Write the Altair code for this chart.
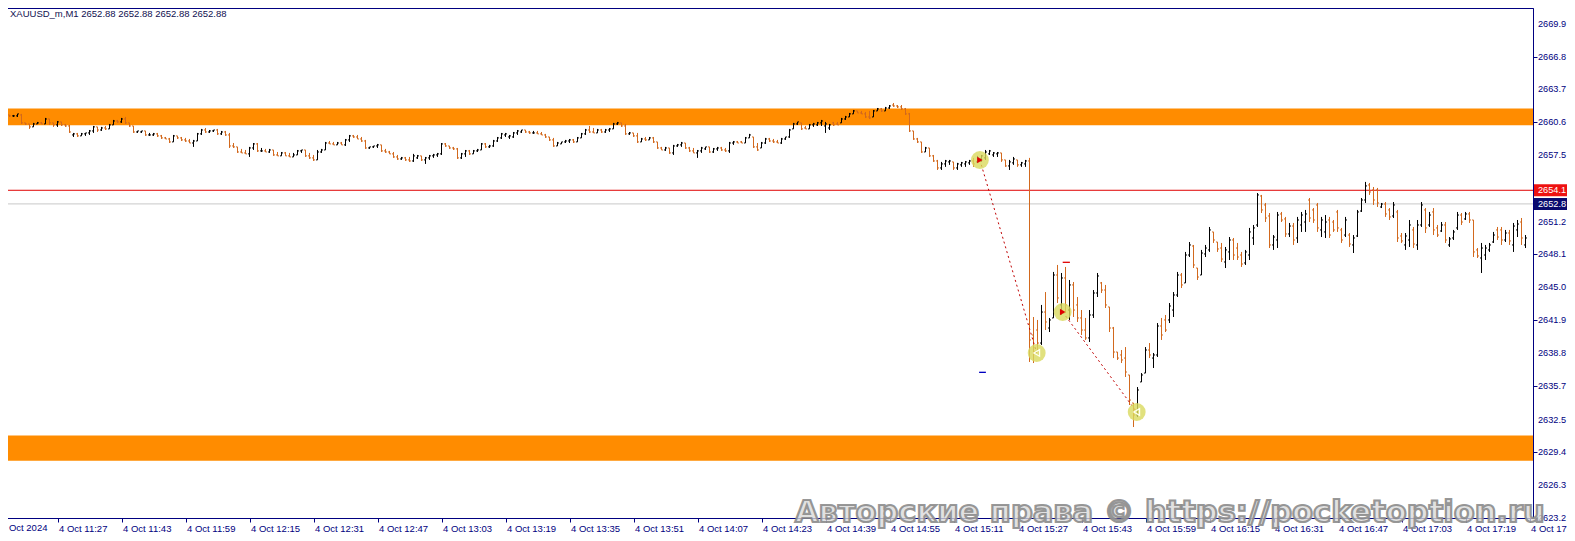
import json
import altair as alt
import pandas as pd

# ---------------- data (XAUUSD_m, M1, 4 Oct 2024, first bar 11:13) ----------------
OPEN = [
2661.29, 2661.20, 2661.29, 2661.20, 2661.20, 2661.29, 2660.54, 2660.44, 2660.16, 2660.44,
2660.54, 2660.44, 2660.91, 2660.54, 2660.35, 2660.63, 2660.35, 2660.25, 2659.40, 2659.50,
2659.31, 2659.50, 2659.59, 2659.78, 2660.16, 2659.87, 2660.06, 2659.97, 2660.35, 2660.72,
2660.63, 2660.91, 2660.54, 2660.25, 2659.68, 2659.68, 2659.78, 2659.40, 2659.40, 2659.50,
2659.31, 2659.12, 2659.02, 2658.74, 2659.31, 2659.12, 2658.93, 2658.83, 2658.64, 2658.83,
2659.50, 2659.87, 2659.68, 2659.78, 2659.87, 2659.50, 2659.68, 2659.40, 2658.36, 2658.27,
2657.79, 2657.70, 2657.61, 2658.17, 2658.55, 2657.89, 2657.89, 2657.79, 2657.98, 2657.51,
2657.42, 2657.70, 2657.42, 2657.32, 2657.51, 2657.89, 2657.98, 2657.42, 2657.23, 2657.04,
2657.79, 2657.98, 2658.64, 2658.55, 2658.46, 2658.64, 2658.46, 2658.93, 2659.31, 2659.21,
2659.02, 2658.83, 2658.17, 2658.27, 2658.36, 2658.46, 2657.89, 2657.79, 2657.61, 2657.32,
2657.13, 2657.23, 2657.04, 2656.94, 2657.23, 2657.42, 2657.04, 2657.23, 2657.42, 2657.51,
2657.61, 2658.55, 2658.36, 2658.17, 2658.08, 2657.23, 2657.61, 2657.89, 2657.61, 2657.89,
2657.98, 2658.55, 2658.27, 2658.36, 2658.83,
2659.12, 2659.40, 2659.21, 2659.21, 2659.59, 2659.68, 2659.87, 2659.68, 2659.59, 2659.59,
2659.50, 2659.40, 2659.21, 2658.93, 2658.36, 2658.55, 2658.74, 2658.83, 2658.93, 2658.74,
2659.12, 2659.50, 2659.87, 2659.68, 2659.59, 2659.87, 2659.68, 2659.87, 2659.97, 2660.44,
2660.54, 2660.25, 2659.50, 2659.59, 2659.31, 2658.74, 2659.02, 2658.93, 2659.12, 2658.74,
2658.17, 2657.98, 2658.17, 2657.70, 2658.36, 2658.46, 2658.64, 2658.17, 2657.89, 2657.70,
2657.89, 2658.08, 2658.27, 2657.79, 2658.08, 2658.17, 2657.98, 2657.89, 2658.64, 2658.74,
2658.74, 2658.64, 2659.12, 2659.21, 2658.27, 2658.17, 2658.64, 2659.02, 2658.83, 2658.74,
2658.64, 2659.02, 2659.21, 2659.97, 2660.44, 2660.54, 2660.06, 2659.97, 2660.35, 2660.35,
2660.54, 2660.25, 2660.06, 2660.54, 2660.44, 2660.54, 2660.91, 2661.10, 2661.39, 2661.67,
2661.48, 2661.39, 2661.10, 2661.10, 2661.67, 2661.86, 2661.67, 2661.95, 2662.23, 2662.14,
2662.05, 2661.86, 2661.39, 2659.78, 2659.02, 2658.74, 2657.79, 2658.17, 2657.42, 2656.94,
2656.28, 2656.66, 2656.85, 2656.85, 2656.28, 2656.57, 2656.66, 2656.76, 2656.94, 2656.85,
2657.13, 2657.23, 2657.61, 2657.51, 2657.61, 2657.70, 2657.04, 2656.47, 2656.76, 2657.04,
2656.57, 2656.66,
2656.94, 2640.49, 2640.96, 2639.73, 2642.66, 2641.15, 2642.10, 2646.16, 2643.33, 2645.88,
2642.85, 2645.22, 2643.33, 2642.10, 2640.96, 2640.21, 2642.38, 2644.46, 2645.41, 2644.74,
2643.14, 2641.15, 2638.88, 2638.60, 2638.31, 2636.71, 2634.06, 2632.93, 2636.05, 2636.89,
2639.07, 2638.31, 2638.60, 2641.34, 2641.91, 2641.91, 2642.85, 2644.27, 2646.16, 2645.41,
2648.05, 2648.90, 2646.82, 2646.16, 2648.15, 2648.53, 2650.23, 2649.28, 2648.71, 2647.39,
2648.34, 2649.47, 2648.71, 2648.05, 2647.30, 2648.05, 2649.66, 2650.89, 2653.63, 2652.78,
2651.74, 2649.00, 2649.47, 2651.93, 2651.46, 2650.04, 2650.79, 2649.66, 2650.89, 2651.17,
2653.25, 2652.31, 2652.78, 2650.42, 2650.23, 2651.36, 2651.17, 2652.12, 2650.42, 2649.94,
2649.94, 2649.00, 2649.85, 2652.21, 2653.25, 2654.67, 2654.20, 2654.20, 2652.59, 2652.87,
2652.31, 2651.74, 2652.12, 2649.85, 2649.00, 2649.47, 2650.42, 2649.00, 2650.89, 2652.31,
2650.89, 2652.12, 2650.61, 2650.32, 2650.89, 2649.00, 2649.66, 2650.61, 2651.83, 2651.46,
2651.93, 2651.36, 2648.53, 2647.77, 2648.05, 2648.53, 2649.28, 2650.42, 2650.42, 2649.47,
2650.13, 2649.00, 2650.42, 2651.17, 2649.00,
]

HIGH = [
2661.39, 2661.29, 2661.29, 2661.29, 2661.39, 2661.39, 2660.54, 2660.44, 2660.54, 2660.63,
2660.63, 2661.01, 2660.91, 2660.54, 2660.72, 2660.63, 2660.44, 2660.35, 2659.59, 2659.59,
2659.59, 2659.59, 2659.87, 2660.25, 2660.16, 2660.16, 2660.25, 2660.44, 2660.82, 2660.82,
2661.01, 2661.10, 2660.54, 2660.25, 2659.78, 2659.78, 2659.78, 2659.59, 2659.59, 2659.59,
2659.40, 2659.21, 2659.12, 2659.40, 2659.31, 2659.21, 2659.12, 2659.02, 2658.93, 2659.59,
2659.97, 2660.06, 2659.87, 2659.87, 2659.97, 2659.78, 2659.78, 2659.59, 2658.64, 2658.27,
2658.08, 2657.98, 2658.27, 2658.64, 2658.64, 2658.17, 2658.08, 2658.08, 2657.98, 2657.79,
2657.79, 2657.79, 2657.70, 2657.70, 2657.98, 2657.98, 2657.98, 2657.70, 2657.51, 2657.98,
2658.08, 2658.74, 2658.83, 2658.74, 2658.74, 2658.74, 2659.02, 2659.40, 2659.40, 2659.40,
2659.21, 2658.93, 2658.27, 2658.36, 2658.55, 2658.46, 2658.08, 2657.89, 2657.79, 2657.51,
2657.32, 2657.32, 2657.32, 2657.61, 2657.51, 2657.42, 2657.32, 2657.51, 2657.61, 2657.70,
2658.64, 2658.64, 2658.36, 2658.27, 2658.17, 2657.70, 2657.98, 2657.98, 2657.98, 2658.08,
2658.64, 2658.64, 2658.46, 2658.93, 2659.21,
2659.59, 2659.59, 2659.40, 2659.68, 2659.87, 2659.87, 2659.87, 2659.78, 2659.78, 2659.78,
2659.68, 2659.50, 2659.21, 2659.12, 2658.74, 2658.74, 2658.93, 2659.02, 2659.02, 2659.21,
2659.59, 2659.97, 2660.25, 2660.06, 2659.97, 2659.97, 2659.97, 2660.06, 2660.54, 2660.63,
2660.54, 2660.44, 2659.68, 2659.59, 2659.59, 2659.12, 2659.21, 2659.21, 2659.21, 2658.74,
2658.27, 2658.27, 2658.17, 2658.46, 2658.55, 2658.74, 2658.64, 2658.27, 2658.17, 2657.98,
2658.27, 2658.27, 2658.27, 2658.17, 2658.27, 2658.27, 2658.17, 2658.74, 2658.83, 2658.83,
2658.83, 2659.21, 2659.50, 2659.21, 2658.64, 2658.74, 2659.12, 2659.12, 2659.02, 2658.93,
2659.12, 2659.21, 2659.97, 2660.54, 2660.63, 2660.54, 2660.25, 2660.44, 2660.54, 2660.63,
2660.82, 2660.63, 2660.44, 2660.63, 2660.63, 2661.01, 2661.20, 2661.48, 2661.76, 2661.67,
2661.67, 2661.57, 2661.67, 2661.76, 2661.95, 2661.95, 2662.05, 2662.23, 2662.42, 2662.23,
2662.23, 2661.95, 2661.48, 2659.78, 2659.12, 2658.74, 2658.27, 2658.17, 2657.51, 2657.04,
2656.85, 2657.04, 2657.04, 2656.85, 2656.76, 2656.85, 2656.94, 2657.04, 2657.23, 2657.42,
2657.51, 2657.98, 2657.98, 2657.79, 2657.79, 2657.70, 2657.04, 2657.04, 2657.32, 2657.04,
2656.85, 2657.04,
2657.23, 2642.19, 2641.91, 2643.33, 2644.55, 2642.10, 2646.45, 2647.11, 2646.35, 2646.92,
2645.69, 2645.50, 2644.08, 2642.85, 2642.10, 2642.85, 2644.74, 2646.35, 2645.50, 2645.22,
2643.14, 2641.25, 2638.88, 2639.07, 2639.35, 2636.71, 2634.06, 2635.57, 2636.89, 2639.35,
2639.73, 2638.79, 2641.62, 2642.10, 2642.38, 2643.51, 2644.55, 2646.45, 2646.35, 2648.34,
2649.28, 2649.00, 2646.82, 2648.53, 2649.00, 2650.70, 2650.23, 2649.28, 2649.19, 2648.81,
2649.75, 2649.66, 2649.19, 2648.34, 2648.53, 2650.61, 2650.89, 2653.91, 2653.73, 2652.97,
2652.02, 2649.94, 2652.12, 2652.12, 2651.65, 2651.08, 2651.08, 2651.65, 2652.12, 2652.31,
2653.44, 2652.49, 2652.97, 2651.65, 2651.83, 2651.65, 2651.36, 2652.31, 2650.61, 2651.65,
2650.13, 2649.94, 2652.31, 2653.44, 2654.96, 2654.86, 2654.48, 2654.39, 2652.97, 2653.06,
2652.49, 2653.06, 2652.31, 2650.13, 2650.13, 2651.36, 2650.70, 2651.36, 2653.06, 2652.49,
2652.12, 2652.49, 2650.89, 2651.17, 2651.17, 2649.75, 2650.42, 2652.12, 2652.02, 2652.12,
2652.12, 2651.36, 2648.71, 2649.19, 2649.00, 2649.19, 2650.23, 2650.70, 2650.70, 2650.42,
2650.42, 2651.08, 2651.36, 2651.55, 2649.94,
]

LOW = [
2661.10, 2661.10, 2661.10, 2661.10, 2661.10, 2660.44, 2660.35, 2659.97, 2660.16, 2660.44,
2660.44, 2660.44, 2660.35, 2660.16, 2660.16, 2660.25, 2660.16, 2659.59, 2659.21, 2659.21,
2659.31, 2659.31, 2659.40, 2659.59, 2659.68, 2659.78, 2659.87, 2659.97, 2660.35, 2660.54,
2660.54, 2660.44, 2660.16, 2659.59, 2659.59, 2659.59, 2659.31, 2659.31, 2659.31, 2659.21,
2659.02, 2659.02, 2658.64, 2658.74, 2659.02, 2658.83, 2658.74, 2658.64, 2658.27, 2658.83,
2659.40, 2659.59, 2659.59, 2659.68, 2659.40, 2659.40, 2659.31, 2658.17, 2658.17, 2657.70,
2657.70, 2657.61, 2657.32, 2657.98, 2657.79, 2657.79, 2657.79, 2657.70, 2657.42, 2657.42,
2657.42, 2657.42, 2657.32, 2657.32, 2657.51, 2657.70, 2657.32, 2657.13, 2656.94, 2657.04,
2657.70, 2657.98, 2658.55, 2658.46, 2658.46, 2658.46, 2658.36, 2658.74, 2659.12, 2659.02,
2658.74, 2658.08, 2658.08, 2658.17, 2658.17, 2657.79, 2657.70, 2657.61, 2657.23, 2657.04,
2657.04, 2656.94, 2656.85, 2656.85, 2657.13, 2656.94, 2656.66, 2657.04, 2657.23, 2657.32,
2657.51, 2658.27, 2658.08, 2657.98, 2657.13, 2657.13, 2657.32, 2657.51, 2657.61, 2657.79,
2657.98, 2658.17, 2658.17, 2658.27, 2658.74,
2659.02, 2659.21, 2659.02, 2659.12, 2659.40, 2659.59, 2659.59, 2659.50, 2659.50, 2659.50,
2659.40, 2659.12, 2658.83, 2658.27, 2658.36, 2658.55, 2658.64, 2658.64, 2658.64, 2658.74,
2659.12, 2659.40, 2659.59, 2659.59, 2659.59, 2659.59, 2659.59, 2659.68, 2659.97, 2660.35,
2660.16, 2659.40, 2659.40, 2659.21, 2658.64, 2658.74, 2658.83, 2658.93, 2658.64, 2658.08,
2657.98, 2657.89, 2657.61, 2657.51, 2658.27, 2658.27, 2658.08, 2657.79, 2657.70, 2657.23,
2657.70, 2657.98, 2657.70, 2657.70, 2657.89, 2657.89, 2657.79, 2657.70, 2658.46, 2658.64,
2658.64, 2658.64, 2659.12, 2658.17, 2657.89, 2658.17, 2658.55, 2658.74, 2658.64, 2658.64,
2658.55, 2658.93, 2659.12, 2659.97, 2660.35, 2659.87, 2659.97, 2659.97, 2660.16, 2660.25,
2660.25, 2659.59, 2659.87, 2660.25, 2660.35, 2660.54, 2660.82, 2661.10, 2661.39, 2661.48,
2661.39, 2661.01, 2660.91, 2661.10, 2661.67, 2661.57, 2661.67, 2661.86, 2662.05, 2661.95,
2661.76, 2661.29, 2659.68, 2658.93, 2658.64, 2657.70, 2657.79, 2657.32, 2656.85, 2656.09,
2656.09, 2656.38, 2656.57, 2656.09, 2656.09, 2656.38, 2656.38, 2656.57, 2656.38, 2656.76,
2656.85, 2657.04, 2657.51, 2657.32, 2657.32, 2656.85, 2656.38, 2656.09, 2656.57, 2656.38,
2656.38, 2656.38,
2637.94, 2637.84, 2639.07, 2639.55, 2640.96, 2640.77, 2642.10, 2643.51, 2642.38, 2642.57,
2641.91, 2642.19, 2641.72, 2640.49, 2640.02, 2639.83, 2642.10, 2644.08, 2644.46, 2643.04,
2640.77, 2638.31, 2638.13, 2637.84, 2636.52, 2633.87, 2631.79, 2632.74, 2636.05, 2636.89,
2638.31, 2637.37, 2638.41, 2640.02, 2640.77, 2641.62, 2642.19, 2644.08, 2644.93, 2645.41,
2647.86, 2646.82, 2645.69, 2646.16, 2647.86, 2648.34, 2649.19, 2648.34, 2647.39, 2646.82,
2647.58, 2647.58, 2647.58, 2646.92, 2647.11, 2647.58, 2649.00, 2650.70, 2652.02, 2651.17,
2648.71, 2648.53, 2648.71, 2651.17, 2649.75, 2649.75, 2649.00, 2649.19, 2650.23, 2650.23,
2651.17, 2651.08, 2650.23, 2649.75, 2649.66, 2649.66, 2650.23, 2650.23, 2649.19, 2649.75,
2648.81, 2648.24, 2649.75, 2652.12, 2652.97, 2653.73, 2652.78, 2652.59, 2652.49, 2651.65,
2651.36, 2651.55, 2649.28, 2649.19, 2648.53, 2648.81, 2648.71, 2648.53, 2650.70, 2650.13,
2650.70, 2649.94, 2649.75, 2650.23, 2649.19, 2648.81, 2649.47, 2650.42, 2650.89, 2651.36,
2651.08, 2647.86, 2647.77, 2646.35, 2647.58, 2648.34, 2649.19, 2649.47, 2649.00, 2649.28,
2649.00, 2648.34, 2649.75, 2649.00, 2648.71,
]

CLOSE = [
2661.20, 2661.29, 2661.20, 2661.20, 2661.39, 2660.54, 2660.44, 2660.16, 2660.44, 2660.54,
2660.44, 2660.91, 2660.54, 2660.35, 2660.63, 2660.35, 2660.25, 2659.68, 2659.50, 2659.31,
2659.50, 2659.59, 2659.78, 2660.16, 2659.87, 2660.06, 2659.97, 2660.35, 2660.72, 2660.63,
2660.91, 2660.54, 2660.25, 2659.68, 2659.78, 2659.78, 2659.40, 2659.40, 2659.50, 2659.31,
2659.12, 2659.02, 2658.74, 2659.31, 2659.12, 2658.93, 2658.83, 2658.64, 2658.83, 2659.50,
2659.87, 2659.68, 2659.78, 2659.87, 2659.50, 2659.68, 2659.40, 2658.36, 2658.27, 2657.79,
2657.70, 2657.61, 2658.17, 2658.55, 2657.89, 2657.89, 2657.79, 2657.98, 2657.51, 2657.42,
2657.70, 2657.42, 2657.32, 2657.51, 2657.89, 2657.98, 2657.42, 2657.23, 2657.04, 2657.79,
2657.98, 2658.64, 2658.55, 2658.46, 2658.64, 2658.46, 2658.93, 2659.31, 2659.21, 2659.02,
2658.83, 2658.17, 2658.27, 2658.36, 2658.46, 2657.89, 2657.79, 2657.61, 2657.32, 2657.13,
2657.23, 2657.04, 2656.94, 2657.42, 2657.42, 2657.04, 2657.23, 2657.42, 2657.51, 2657.61,
2658.55, 2658.36, 2658.17, 2658.08, 2657.23, 2657.61, 2657.89, 2657.61, 2657.89, 2657.98,
2658.55, 2658.27, 2658.36, 2658.83, 2659.12,
2659.50, 2659.50, 2659.31, 2659.59, 2659.78, 2659.87, 2659.68, 2659.59, 2659.59, 2659.50,
2659.40, 2659.21, 2658.93, 2658.36, 2658.64, 2658.74, 2658.83, 2658.93, 2658.74, 2659.12,
2659.50, 2659.87, 2659.68, 2659.59, 2659.87, 2659.68, 2659.87, 2659.97, 2660.44, 2660.54,
2660.25, 2659.50, 2659.59, 2659.31, 2658.74, 2659.02, 2658.93, 2659.12, 2658.74, 2658.17,
2657.98, 2658.17, 2657.70, 2658.36, 2658.46, 2658.64, 2658.17, 2657.89, 2657.70, 2657.89,
2658.17, 2658.27, 2657.79, 2658.08, 2658.17, 2657.98, 2657.89, 2658.64, 2658.74, 2658.64,
2658.64, 2659.12, 2659.40, 2658.27, 2657.98, 2658.64, 2659.02, 2658.83, 2658.74, 2658.64,
2659.02, 2659.21, 2659.87, 2660.44, 2660.63, 2659.97, 2659.97, 2660.35, 2660.44, 2660.54,
2660.72, 2660.44, 2660.35, 2660.35, 2660.35, 2660.91, 2661.10, 2661.39, 2661.67, 2661.48,
2661.39, 2661.10, 2661.01, 2661.67, 2661.86, 2661.67, 2661.95, 2662.14, 2662.14, 2662.05,
2661.86, 2661.39, 2659.78, 2659.02, 2658.74, 2657.79, 2658.17, 2657.42, 2656.94, 2656.28,
2656.66, 2656.94, 2656.94, 2656.28, 2656.66, 2656.76, 2656.85, 2656.94, 2656.66, 2657.23,
2657.42, 2657.79, 2657.89, 2657.70, 2657.70, 2657.04, 2656.47, 2656.85, 2657.13, 2656.57,
2656.76, 2656.94,
2640.02, 2638.88, 2639.73, 2642.66, 2641.72, 2641.91, 2646.16, 2643.99, 2645.88, 2643.33,
2645.22, 2642.85, 2642.10, 2640.96, 2640.21, 2642.38, 2644.46, 2646.07, 2644.74, 2643.33,
2641.15, 2638.88, 2638.31, 2638.13, 2636.99, 2634.34, 2632.93, 2635.29, 2636.71, 2639.07,
2638.60, 2638.60, 2641.34, 2640.49, 2640.96, 2643.23, 2644.27, 2646.16, 2645.22, 2648.05,
2649.00, 2647.11, 2645.97, 2648.24, 2648.71, 2650.42, 2649.47, 2648.62, 2647.67, 2648.53,
2649.47, 2648.05, 2647.86, 2647.20, 2648.34, 2650.23, 2650.61, 2653.73, 2652.31, 2651.55,
2649.00, 2649.75, 2651.83, 2651.36, 2650.04, 2650.79, 2649.47, 2651.36, 2651.83, 2651.93,
2651.55, 2651.36, 2650.61, 2651.36, 2651.17, 2649.94, 2650.42, 2650.61, 2649.47, 2651.36,
2649.09, 2649.66, 2652.12, 2653.25, 2654.58, 2654.01, 2653.25, 2652.97, 2652.87, 2651.93,
2651.65, 2652.78, 2649.66, 2649.38, 2649.85, 2650.89, 2649.09, 2650.89, 2652.78, 2650.61,
2651.83, 2650.42, 2649.94, 2650.89, 2649.47, 2649.57, 2650.23, 2651.83, 2651.17, 2651.93,
2651.36, 2648.34, 2647.96, 2648.71, 2648.71, 2649.00, 2649.94, 2649.75, 2649.47, 2650.13,
2649.38, 2650.79, 2650.98, 2649.66, 2649.66,
]

# time axis: bar index 0 = 11:13
TIME_TICK_BARS = [14, 30, 46, 62, 78, 94, 110, 126, 142, 158, 174, 190, 206, 222,
                  238, 254, 270, 286, 302, 318, 334, 350, 366, 382]
TIME_TICK_TEXT = ["4 Oct 11:27", "4 Oct 11:43", "4 Oct 11:59", "4 Oct 12:15", "4 Oct 12:31",
                  "4 Oct 12:47", "4 Oct 13:03", "4 Oct 13:19", "4 Oct 13:35", "4 Oct 13:51",
                  "4 Oct 14:07", "4 Oct 14:23", "4 Oct 14:39", "4 Oct 14:55", "4 Oct 15:11",
                  "4 Oct 15:27", "4 Oct 15:43", "4 Oct 15:59", "4 Oct 16:15", "4 Oct 16:31",
                  "4 Oct 16:47", "4 Oct 17:03", "4 Oct 17:19", "4 Oct 17:35"]
DATE_TICK_BAR = [-2]
DATE_TICK_TEXT = ["4 Oct 2024"]

PRICE_TICKS = [2669.9, 2666.8, 2663.7, 2660.6, 2657.5, 2654.4, 2651.2, 2648.1,
               2645.0, 2641.9, 2638.8, 2635.7, 2632.5, 2629.4, 2626.3, 2623.2]

ZONE_LOW = [2660.32, 2628.61]
ZONE_HIGH = [2661.89, 2630.98]

LEVEL_PRICE = [2654.17]
LEVEL_TEXT = ["2654.1"]
BID_PRICE = [2652.88]
BID_TEXT = ["2652.8"]

TRADE_BAR = [244.6, 258.8, 265.3, 283.8]
TRADE_PRICE = [2657.03, 2638.79, 2642.66, 2633.21]
TRADE_KIND = ["entry", "exit", "entry", "exit"]

SL_BAR_FROM, SL_BAR_TO, SL_PRICE = [244.4], [246.1], [2636.96]
TP_BAR_FROM, TP_BAR_TO, TP_PRICE = [265.3], [267.1], [2647.36]

TITLE = "XAUUSD_m,M1  2652.88 2652.88 2652.88 2652.88"
WATERMARK = "Авторские права © https://pocketoption.ru"

# ---------------- styling ----------------
NAVY = "#000080"
UP = "#000000"
DOWN = "#D2691E"
ZONE = "#FF8C00"
FONT = "Liberation Sans"
W, H = 1533, 510

n = min(len(OPEN), len(HIGH), len(LOW), len(CLOSE))
bars = pd.DataFrame({
    "bar": list(range(n)),
    "open": OPEN[:n], "high": HIGH[:n], "low": LOW[:n], "close": CLOSE[:n],
})
bars["dir"] = ["up" if c >= o else "down" for o, c in zip(bars["open"], bars["close"])]
bars["left"] = bars["bar"] - 0.375
bars["right"] = bars["bar"] + 0.375

xs = alt.Scale(domain=[-0.375, 382.875], nice=False, zero=False)
ys = alt.Scale(domain=[2623.19, 2671.40], nice=False, zero=False)
cs = alt.Scale(domain=["up", "down"], range=[UP, DOWN])

x_axis = alt.Axis(values=TIME_TICK_BARS,
                  labelExpr=f"{json.dumps(TIME_TICK_TEXT)}[indexof({json.dumps(TIME_TICK_BARS)}, datum.value)]",
                  title=None, grid=False, orient="bottom",
                  domainColor=NAVY, tickColor=NAVY, tickSize=4, labelColor=NAVY,
                  labelFont=FONT, labelFontSize=9.5, labelAlign="left", labelBaseline="top",
                  labelPadding=1, labelOffset=1, labelOverlap=False, labelFlush=False)
y_axis = alt.Axis(values=PRICE_TICKS, labels=False, title=None, grid=False, orient="right",
                  domainColor=NAVY, tickColor=NAVY, tickSize=4)

zones = alt.Chart(pd.DataFrame({"lo": ZONE_LOW, "hi": ZONE_HIGH})).mark_rect(color=ZONE).encode(
    x=alt.value(0), x2=alt.value(W),
    y=alt.Y("lo:Q", scale=ys, axis=y_axis), y2="hi:Q")

price_labels = alt.Chart(pd.DataFrame({"p": PRICE_TICKS})).mark_text(
    align="left", baseline="middle", font=FONT, fontSize=9.2, color=NAVY).encode(
    x=alt.value(W + 5), y=alt.Y("p:Q", scale=ys), text=alt.Text("p:Q", format=".1f"))

bid_line = alt.Chart(pd.DataFrame({"p": BID_PRICE})).mark_rule(color="#C8C8C8", strokeWidth=1).encode(
    y=alt.Y("p:Q", scale=ys))
level_line = alt.Chart(pd.DataFrame({"p": LEVEL_PRICE})).mark_rule(color="#E00000", strokeWidth=1).encode(
    y=alt.Y("p:Q", scale=ys))

base = alt.Chart(bars)
hl = base.mark_rule(strokeWidth=1).encode(
    x=alt.X("bar:Q", scale=xs, axis=x_axis),
    y=alt.Y("low:Q", scale=ys), y2="high:Q",
    color=alt.Color("dir:N", scale=cs, legend=None))
op = base.mark_rule(strokeWidth=1).encode(
    x=alt.X("left:Q", scale=xs), x2="bar:Q",
    y=alt.Y("open:Q", scale=ys),
    color=alt.Color("dir:N", scale=cs, legend=None))
cl = base.mark_rule(strokeWidth=1).encode(
    x=alt.X("bar:Q", scale=xs), x2="right:Q",
    y=alt.Y("close:Q", scale=ys),
    color=alt.Color("dir:N", scale=cs, legend=None))

trades = pd.DataFrame({"bar": TRADE_BAR, "price": TRADE_PRICE, "kind": TRADE_KIND})
segs = pd.DataFrame({"b1": TRADE_BAR[0::2], "p1": TRADE_PRICE[0::2],
                     "b2": TRADE_BAR[1::2], "p2": TRADE_PRICE[1::2]})
trade_lines = alt.Chart(segs).mark_rule(color="#C00000", strokeWidth=1, strokeDash=[2, 3]).encode(
    x=alt.X("b1:Q", scale=xs), x2="b2:Q",
    y=alt.Y("p1:Q", scale=ys), y2="p2:Q")
halo = alt.Chart(trades).mark_circle(size=320, color="#DADA5E", opacity=0.8).encode(
    x=alt.X("bar:Q", scale=xs), y=alt.Y("price:Q", scale=ys))
entry_mark = alt.Chart(trades).transform_filter("datum.kind == 'entry'").mark_point(
    shape="triangle-right", filled=True, color="#E00000", size=40, opacity=1).encode(
    x=alt.X("bar:Q", scale=xs), y=alt.Y("price:Q", scale=ys))
exit_mark = alt.Chart(trades).transform_filter("datum.kind == 'exit'").mark_point(
    shape="triangle-left", filled=False, color="#FFFFF0", strokeWidth=1.2, size=45, opacity=1).encode(
    x=alt.X("bar:Q", scale=xs), y=alt.Y("price:Q", scale=ys))

sl_mark = alt.Chart(pd.DataFrame({"b1": SL_BAR_FROM, "b2": SL_BAR_TO, "p": SL_PRICE})).mark_rule(
    strokeWidth=1.3, color="#0000C0").encode(
    x=alt.X("b1:Q", scale=xs), x2="b2:Q", y=alt.Y("p:Q", scale=ys))
tp_mark = alt.Chart(pd.DataFrame({"b1": TP_BAR_FROM, "b2": TP_BAR_TO, "p": TP_PRICE})).mark_rule(
    strokeWidth=1.3, color="#E00000").encode(
    x=alt.X("b1:Q", scale=xs), x2="b2:Q", y=alt.Y("p:Q", scale=ys))

level_df = pd.DataFrame({"p": LEVEL_PRICE, "t": LEVEL_TEXT})
bid_df = pd.DataFrame({"p": BID_PRICE, "t": BID_TEXT})
level_box = alt.Chart(level_df).mark_rule(strokeWidth=12, strokeCap="butt", color="#EE1111").encode(
    x=alt.value(W + 1), x2=alt.value(W + 40), y=alt.Y("p:Q", scale=ys))
bid_box = alt.Chart(bid_df).mark_rule(strokeWidth=12, strokeCap="butt", color="#0A0A6E").encode(
    x=alt.value(W + 1), x2=alt.value(W + 40), y=alt.Y("p:Q", scale=ys))
level_txt = alt.Chart(level_df).mark_text(align="left", baseline="middle", font=FONT, fontSize=9.2,
                                           color="white").encode(
    x=alt.value(W + 5), y=alt.Y("p:Q", scale=ys), text="t:N")
bid_txt = alt.Chart(bid_df).mark_text(align="left", baseline="middle", font=FONT, fontSize=9.2,
                                       color="white").encode(
    x=alt.value(W + 5), y=alt.Y("p:Q", scale=ys), text="t:N")

date_label = alt.Chart(pd.DataFrame({"bar": DATE_TICK_BAR, "t": DATE_TICK_TEXT})).mark_text(
    align="left", baseline="top", font=FONT, fontSize=9.5, color=NAVY, dx=7.5).encode(
    x=alt.X("bar:Q", scale=xs), y=alt.value(H + 5), text="t:N")

title = alt.Chart(pd.DataFrame({"t": [TITLE]})).mark_text(
    align="left", baseline="top", font=FONT, fontSize=9.5, color="#101050").encode(
    x=alt.value(10), y=alt.value(1), text="t:N")

watermark = alt.Chart(pd.DataFrame({"t": [WATERMARK]})).mark_text(
    align="left", baseline="alphabetic", font="DejaVu Sans", fontSize=30.5, fontWeight="bold",
    fill="#D9D9D9", fillOpacity=0.8, stroke="#8A8A8A", strokeWidth=2.2, strokeOpacity=0.9).encode(
    x=alt.value(795), y=alt.value(514), text="t:N")

chart = alt.layer(
    zones, price_labels, bid_line, level_line, hl, op, cl, trade_lines, halo, entry_mark, exit_mark,
    sl_mark, tp_mark, level_box, bid_box, level_txt, bid_txt, date_label, title, watermark
).properties(
    width=W, height=H,
    autosize=alt.AutoSizeParams(type="none"),
    padding={"left": -8, "top": 0, "right": 34, "bottom": 15},
    background="white",
).configure_view(stroke=NAVY, strokeWidth=1)

chart.save("out.html", embed_options={"renderer": "svg", "actions": False})
